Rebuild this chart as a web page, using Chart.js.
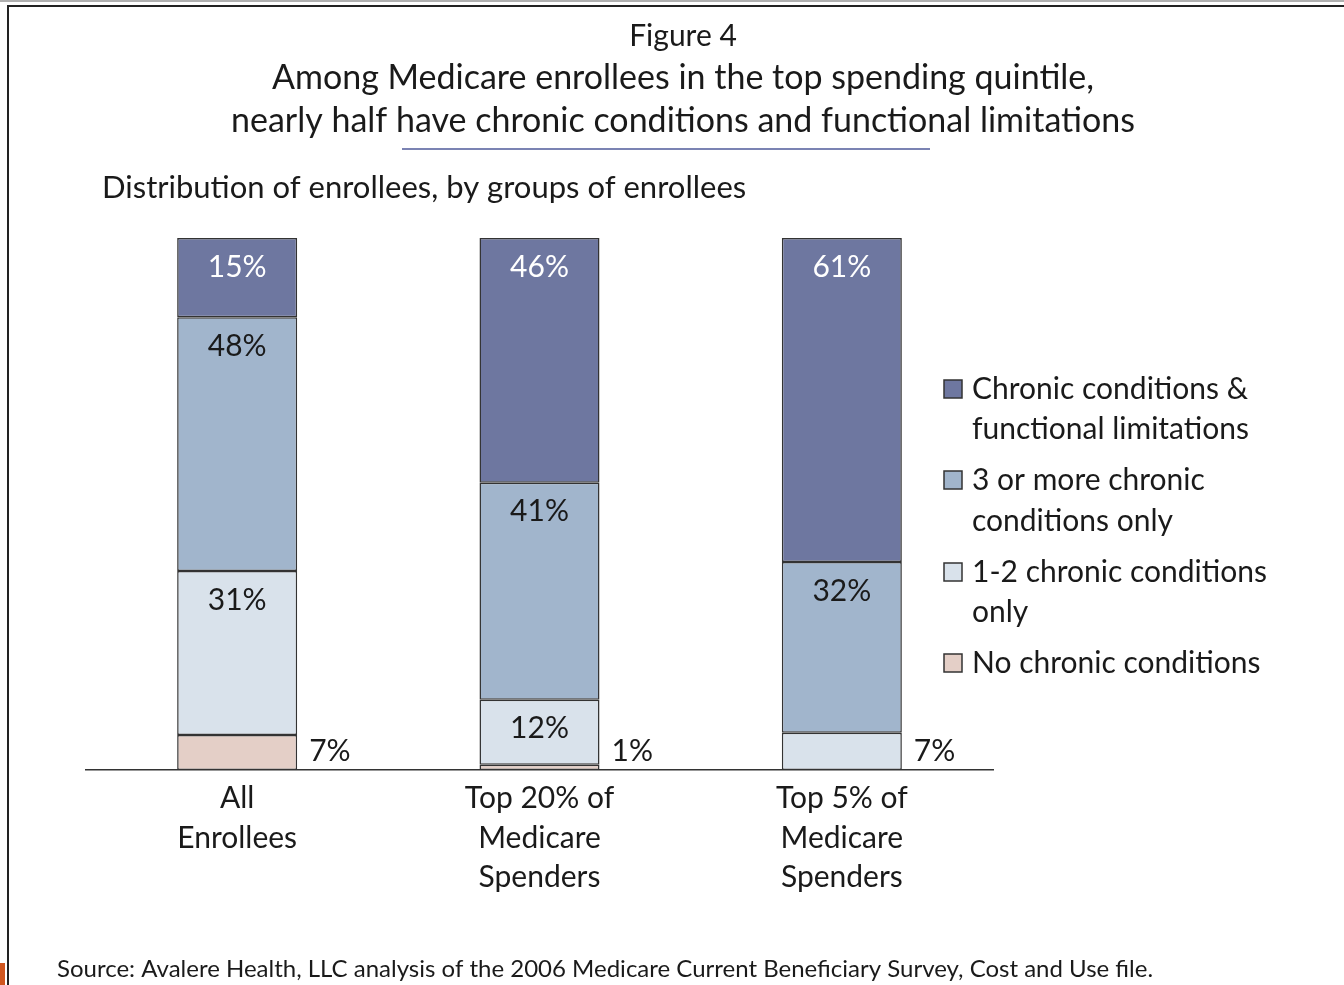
<!DOCTYPE html>
<html>
<head>
<meta charset="utf-8">
<script src="https://cdn.jsdelivr.net/npm/chart.js@4/dist/chart.umd.min.js"></script>
<style>
  html, body { margin: 0; padding: 0; background: #fff; }
  #canvas { display: block; }
</style>
</head>
<body>
<canvas id="canvas" width="1344" height="985"></canvas>
<script>
// categories (x axis), multi-line
let categories = [
  ['All', 'Enrollees'],
  ['Top 20% of', 'Medicare', 'Spenders'],
  ['Top 5% of', 'Medicare', 'Spenders']
];

// series, bottom of the stack first
let noChronic   = [6.6, 1, 0];
let oneTwo      = [30.8, 12.2, 7];
let threePlus   = [47.7, 40.8, 32.1];
let chronicFunc = [14.9, 46, 60.9];

let seriesNames = [
  'No chronic conditions',
  '1-2 chronic conditions only',
  '3 or more chronic conditions only',
  'Chronic conditions & functional limitations'
];
// how the legend wraps each name
let legendLines = [
  ['No chronic conditions'],
  ['1-2 chronic conditions', 'only'],
  ['3 or more chronic', 'conditions only'],
  ['Chronic conditions &', 'functional limitations']
];

let FONT = 'Lato, "Open Sans", sans-serif';
let TEXT = '#1a1a1a';

// page furniture: frame, titles, underline, source note
let decor = {
  id: 'decor',
  beforeDraw(chart) {
    let ctx = chart.ctx;
    ctx.save();
    ctx.fillStyle = '#fff';
    ctx.fillRect(0, 0, chart.width, chart.height);
    // frame
    ctx.fillStyle = '#b0b0b0';
    ctx.fillRect(0, 0, chart.width, 2);
    ctx.fillStyle = '#222';
    ctx.fillRect(7, 5, chart.width - 7, 2);
    ctx.fillRect(7, 5, 2, chart.height - 5);
    ctx.fillStyle = '#d0561f';
    ctx.fillRect(0, 963, 5, 22);

    ctx.fillStyle = TEXT;
    ctx.textBaseline = 'middle';
    ctx.textAlign = 'center';
    ctx.font = '30px ' + FONT;
    ctx.fillText('Figure 4', 683, 36);
    ctx.font = '34px ' + FONT;
    ctx.fillText('Among Medicare enrollees in the top spending quintile,', 683, 78);
    ctx.fillText('nearly half have chronic conditions and functional limitations', 683, 121);

    ctx.strokeStyle = '#7b83b3';
    ctx.lineWidth = 2;
    ctx.beginPath();
    ctx.moveTo(402, 149);
    ctx.lineTo(930, 149);
    ctx.stroke();

    ctx.textAlign = 'left';
    ctx.font = '31px ' + FONT;
    ctx.fillText('Distribution of enrollees, by groups of enrollees', 102, 188);

    ctx.font = '24px ' + FONT;
    ctx.fillText('Source: Avalere Health, LLC analysis of the 2006 Medicare Current Beneficiary Survey, Cost and Use file.', 57, 969);
    ctx.restore();
  }
};

// percent labels on / beside the segments, and the legend on the right
let labelsAndLegend = {
  id: 'labelsAndLegend',
  afterDatasetsDraw(chart) {
    let ctx = chart.ctx;
    ctx.save();
    ctx.font = '30px ' + FONT;
    ctx.textBaseline = 'middle';
    chart.data.datasets.forEach((ds, di) => {
      let meta = chart.getDatasetMeta(di);
      meta.data.forEach((bar, i) => {
        let v = ds.data[i];
        if (!v) return;
        let txt = Math.round(v) + '%';
        if (v < 10) {
          ctx.textAlign = 'left';
          ctx.fillStyle = TEXT;
          ctx.fillText(txt, bar.x + bar.width / 2 + 12, chart.scales.y.getPixelForValue(0) - 19);
        } else {
          ctx.textAlign = 'center';
          ctx.fillStyle = di === 3 ? '#ffffff' : TEXT;
          ctx.fillText(txt, bar.x, bar.y + 29);
        }
      });
    });

    // legend, top series first
    let rows = [[389, 429], [480, 521], [572, 612], [663]];
    ctx.font = '30px ' + FONT;
    for (let k = 0; k < 4; k++) {
      let di = 3 - k;
      let ds = chart.data.datasets[di];
      let ys = rows[k];
      ctx.fillStyle = ds.backgroundColor;
      ctx.fillRect(944, ys[0] - 9, 18, 18);
      ctx.strokeStyle = '#333';
      ctx.lineWidth = 1.5;
      ctx.strokeRect(944, ys[0] - 9, 18, 18);
      ctx.fillStyle = TEXT;
      ctx.textAlign = 'left';
      legendLines[di].forEach((line, j) => ctx.fillText(line, 972, ys[j]));
    }
    ctx.restore();
  }
};

function series(label, data, color) {
  return {
    label: label,
    data: data,
    backgroundColor: color,
    borderColor: '#333',
    borderWidth: 1.5,
    borderSkipped: false,
    categoryPercentage: 1,
    barPercentage: 0.397
  };
}

let options = {
  type: 'bar',
  data: {
    labels: categories,
    datasets: [
      series(seriesNames[0], noChronic, '#e4cfc7'),
      series(seriesNames[1], oneTwo, '#d9e2eb'),
      series(seriesNames[2], threePlus, '#a1b5cc'),
      series(seriesNames[3], chronicFunc, '#6e77a0')
    ]
  },
  options: {
    responsive: false,
    animation: false,
    layout: { padding: { left: 86, right: 351, top: 238, bottom: 0 } },
    plugins: {
      legend: { display: false },
      tooltip: { enabled: false },
      title: { display: false }
    },
    scales: {
      x: {
        stacked: true,
        grid: { display: false },
        border: { display: true, color: '#333', width: 1.5 },
        ticks: {
          color: TEXT,
          font: { family: FONT, size: 30, lineHeight: 1.33 },
          padding: 0,
          maxRotation: 0
        },
        afterFit(scale) { scale.height = 215; }
      },
      y: {
        stacked: true,
        display: false,
        min: 0,
        max: 100
      }
    }
  },
  plugins: [decor, labelsAndLegend]
};

new Chart(document.getElementById('canvas'), options);
</script>
</body>
</html>
